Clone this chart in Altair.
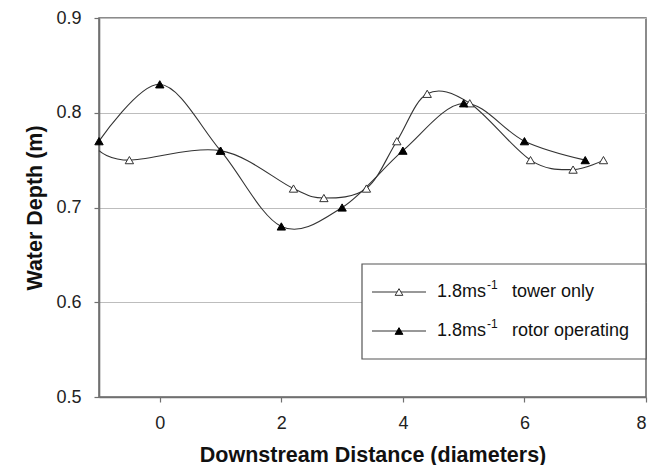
import altair as alt
import pandas as pd

# ---- data ----
tower_x = [-1.0, -0.5, 1.0, 2.2, 2.7, 3.4, 3.9, 4.4, 5.1, 6.1, 6.8, 7.3]
tower_y = [0.76, 0.75, 0.76, 0.72, 0.71, 0.72, 0.77, 0.82, 0.81, 0.75, 0.74, 0.75]
rotor_x = [-1.0, 0.0, 1.0, 2.0, 3.0, 4.0, 5.0, 6.0, 7.0]
rotor_y = [0.77, 0.83, 0.76, 0.68, 0.70, 0.76, 0.81, 0.77, 0.75]
series_names = ["tower only", "rotor operating"]
speed_label = "1.8ms"
speed_exp = "-1"
x_ticks = [0, 2, 4, 6, 8]
y_ticks = [0.5, 0.6, 0.7, 0.8, 0.9]
x_title = "Downstream Distance (diameters)"
y_title = "Water Depth (m)"

FONT = "Liberation Sans"
LINE = "#333333"

tower = pd.DataFrame({"x": tower_x, "y": tower_y})
rotor = pd.DataFrame({"x": rotor_x, "y": rotor_y})

xs = alt.Scale(domain=[-1, 8], nice=False, zero=False)
ys = alt.Scale(domain=[0.5, 0.9], nice=False, zero=False)

X = alt.X("x:Q", scale=xs, title=x_title,
          axis=alt.Axis(values=x_ticks, grid=False, format="d",
                        labelPadding=12, titlePadding=12))
Y = alt.Y("y:Q", scale=ys, title=y_title,
          axis=alt.Axis(values=y_ticks, grid=True, format=".1f",
                        labelPadding=13, titlePadding=9,
                        gridColor="#bdbdbd", gridWidth=1))

line_t = alt.Chart(tower).mark_line(interpolate="cardinal", color=LINE, strokeWidth=1.1).encode(x=X, y=Y)
line_r = alt.Chart(rotor).mark_line(interpolate="cardinal", color=LINE, strokeWidth=1.1).encode(x=X, y=Y)
pts_t = alt.Chart(tower).transform_filter("datum.x > -1").mark_point(
    shape="triangle-up", size=70, filled=True, fill="white", stroke=LINE, strokeWidth=1, opacity=1
).encode(x=X, y=Y)
pts_r = alt.Chart(rotor).mark_point(
    shape="triangle-up", size=70, filled=True, fill="black", stroke="black", strokeWidth=1, opacity=1
).encode(x=X, y=Y)

one = pd.DataFrame({"a": [0]})
legend_box = alt.Chart(one).mark_rect(fill="white", stroke="#555555", strokeWidth=1.2).encode(
    x=alt.value(263), x2=alt.value(547), y=alt.value(246), y2=alt.value(341)
)

legend_layers = [legend_box]
row_y = [274, 313]
fills = ["white", "black"]
for name, ry, f in zip(series_names, row_y, fills):
    legend_layers.append(
        alt.Chart(one).mark_rule(color=LINE, strokeWidth=1.1).encode(
            x=alt.value(273), x2=alt.value(327), y=alt.value(ry))
    )
    legend_layers.append(
        alt.Chart(one).mark_point(shape="triangle-up", size=60, filled=True, fill=f,
                                  stroke=LINE if f == "white" else "black", strokeWidth=1, opacity=1).encode(
            x=alt.value(300), y=alt.value(ry))
    )
    legend_layers.append(
        alt.Chart(pd.DataFrame({"t": [speed_label]})).mark_text(
            font=FONT, fontSize=18, align="left", baseline="middle", color="#111").encode(
            x=alt.value(338), y=alt.value(ry), text="t:N")
    )
    legend_layers.append(
        alt.Chart(pd.DataFrame({"t": [speed_exp]})).mark_text(
            font=FONT, fontSize=12, align="left", baseline="middle", color="#111").encode(
            x=alt.value(388), y=alt.value(ry - 7), text="t:N")
    )
    legend_layers.append(
        alt.Chart(pd.DataFrame({"t": [name]})).mark_text(
            font=FONT, fontSize=18, align="left", baseline="middle", color="#111").encode(
            x=alt.value(413), y=alt.value(ry), text="t:N")
    )

chart = alt.layer(line_t, line_r, pts_t, pts_r, *legend_layers).properties(
    width=547, height=379,
    autosize=alt.AutoSizeParams(type="none"),
    padding={"left": 91, "top": 10, "right": 10, "bottom": 68},
).configure_view(
    stroke="#666666", strokeWidth=1.5
).configure_axis(
    domainColor="#707070", domainWidth=1.6,
    tickColor="#707070", tickSize=5, tickWidth=1.2,
    labelFont=FONT, labelFontSize=18, labelColor="#222222",
    titleFont=FONT, titleFontSize=21.5, titleFontWeight="bold", titleColor="#111111",
)

chart.save("out.html", embed_options={"renderer": "svg", "actions": False})
